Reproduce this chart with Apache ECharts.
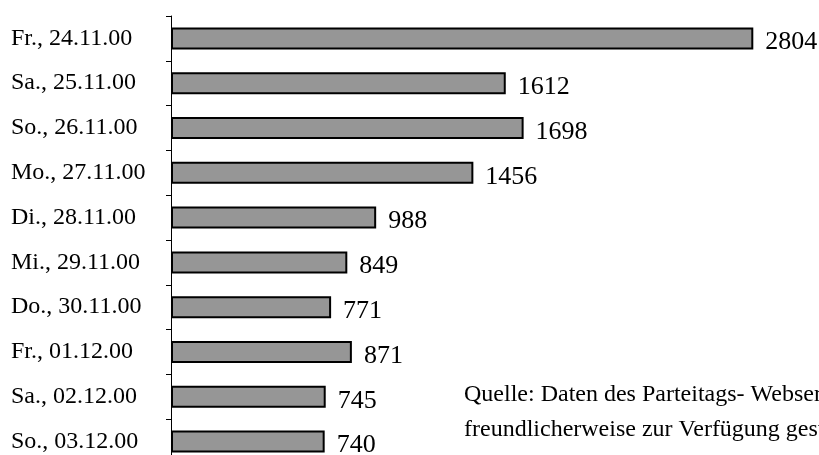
<!DOCTYPE html>
<html>
<head>
<meta charset="utf-8">
<script src="https://cdn.jsdelivr.net/npm/echarts@6/dist/echarts.min.js"></script>
<style>
  html, body { margin: 0; padding: 0; background: #fff; overflow: hidden; }
  /* taller than the window: the axis runs on past the bottom edge */
  #chart { width: 819px; height: 475px; }
</style>
</head>
<body>
<div id="chart"></div>
<script>
  // Zugriffe pro Tag
  const days = ['Fr., 24.11.00', 'Sa., 25.11.00', 'So., 26.11.00', 'Mo., 27.11.00', 'Di., 28.11.00',
                'Mi., 29.11.00', 'Do., 30.11.00', 'Fr., 01.12.00', 'Sa., 02.12.00', 'So., 03.12.00']
  const hits = [2804, 1612, 1698, 1456, 988, 849, 771, 871, 745, 740]
  const sourceLines = ['Quelle: Daten des Parteitags- Webservers,', 'freundlicherweise zur Verfügung gestellt']

  const serif = "'Liberation Serif', 'Times New Roman', serif"

  let myChart = echarts.init(document.getElementById('chart'), null, { renderer: 'canvas' })

  let option = {
    animation: false,
    backgroundColor: '#fff',
    grid: {
      left: 171,
      top: 16,
      width: 623,
      height: 448
    },
    xAxis: {
      type: 'value',
      min: 0,
      max: 3000,
      show: false
    },
    yAxis: {
      type: 'category',
      data: days,
      inverse: true,
      axisLine: { lineStyle: { color: '#000', width: 1 } },
      axisTick: { show: true, length: 5, lineStyle: { color: '#000' } },
      axisLabel: {
        align: 'left',
        margin: 160,
        color: '#000',
        fontFamily: serif,
        fontSize: 24,
        padding: [12, 0, 0, 0]
      }
    },
    series: [
      {
        type: 'bar',
        data: hits,
        barWidth: 22,
        itemStyle: {
          color: '#969696',
          borderColor: '#000',
          borderWidth: 2
        },
        label: {
          show: true,
          position: 'right',
          distance: 12,
          offset: [0, 4],
          color: '#000',
          fontFamily: serif,
          fontSize: 26
        }
      }
    ],
    graphic: [
      {
        type: 'text',
        left: 464,
        top: 377,
        style: {
          text: sourceLines.join('\n'),
          font: '24px ' + serif,
          lineHeight: 35,
          fill: '#000'
        }
      }
    ]
  }

  myChart.setOption(option, true)
</script>
</body>
</html>
